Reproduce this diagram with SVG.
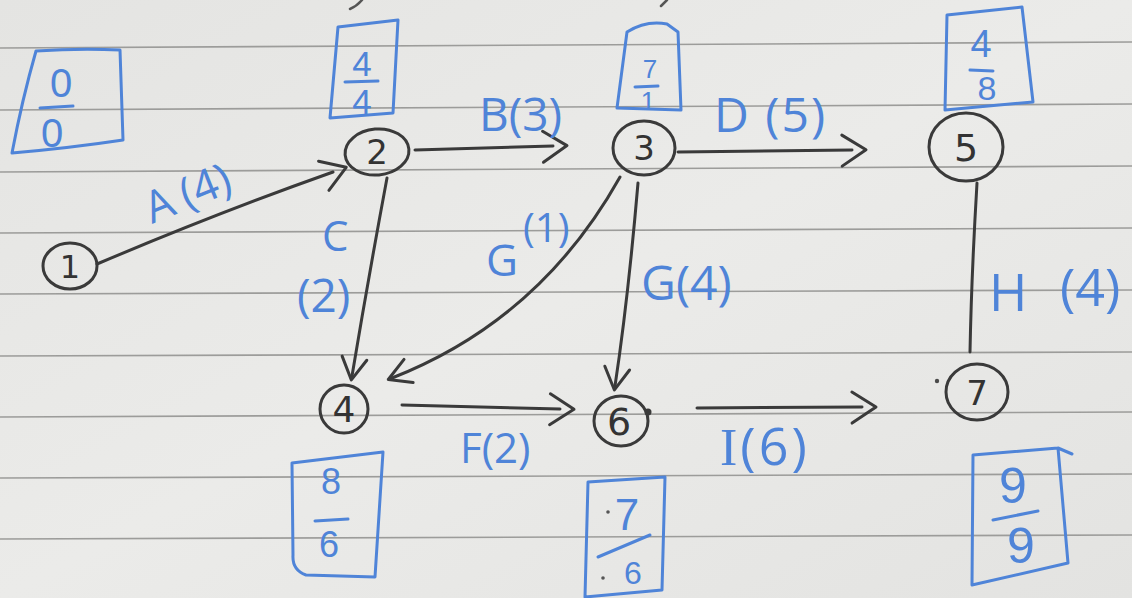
<svg xmlns="http://www.w3.org/2000/svg" width="1132" height="598" viewBox="0 0 1132 598">
  <defs>
    <style>
      .rule { stroke: #9c9c9a; stroke-width: 1.6; fill: none; }
      .pen { stroke: #3a3a3a; stroke-width: 3; fill: none; stroke-linecap: round; stroke-linejoin: round; }
      .blue { stroke: #4f84d8; stroke-width: 3; fill: none; stroke-linecap: round; stroke-linejoin: round; }
      .node-num { font-family: "DejaVu Sans", "Liberation Sans", sans-serif; fill: #333333; text-anchor: middle; }
      .tag { font-family: "Open Sans", "Liberation Sans", sans-serif; fill: #4f84d8; }
      .time { font-family: "Liberation Sans", Arial, sans-serif; fill: #4f84d8; text-anchor: middle; }
    </style>
    <linearGradient id="paper" x1="0" y1="0" x2="1" y2="1">
      <stop offset="0" stop-color="#e4e4e2"/>
      <stop offset="0.5" stop-color="#ebebe9"/>
      <stop offset="1" stop-color="#e3e3e1"/>
    </linearGradient>
    <!-- open chevron arrowhead; refX pushes the tip a little past the shaft end -->
    <marker id="chev" viewBox="-40 -25 50 50" refX="-14" refY="0" markerWidth="50" markerHeight="50" markerUnits="userSpaceOnUse" orient="auto">
      <path d="M-24,-15 L0,0 L-24,16" stroke="#3a3a3a" stroke-width="3" fill="none" stroke-linecap="round" stroke-linejoin="round"/>
    </marker>
    <marker id="chev-short" viewBox="-40 -25 50 50" refX="-4" refY="0" markerWidth="50" markerHeight="50" markerUnits="userSpaceOnUse" orient="auto">
      <path d="M-22,-12 L0,0 L-22,13" stroke="#3a3a3a" stroke-width="3" fill="none" stroke-linecap="round" stroke-linejoin="round"/>
    </marker>
  </defs>

  <!-- ruled notebook paper -->
  <rect x="0" y="0" width="1132" height="598" fill="url(#paper)"/>
  <g id="paper-rules">
    <path class="rule" d="M0,48 L1132,42"/>
    <path class="rule" d="M0,110 L1132,104"/>
    <path class="rule" d="M0,172 L1132,166"/>
    <path class="rule" d="M0,233 L1132,228"/>
    <path class="rule" d="M0,294 L1132,290"/>
    <path class="rule" d="M0,356 L1132,352"/>
    <path class="rule" d="M0,417 L1132,412"/>
    <path class="rule" d="M0,478 L1132,474"/>
    <path class="rule" d="M0,539 L1132,535"/>
  </g>

  <!-- tails of writing from the line above -->
  <path d="M350,9 Q357,6 362,0" stroke="#555" stroke-width="2.5" fill="none" stroke-linecap="round"/>
  <path d="M661,6 L667,0" stroke="#555" stroke-width="2.5" fill="none" stroke-linecap="round"/>

  <!-- activity arrows -->
  <g id="connectors">
    <path id="edge-A" class="pen" d="M97,264 Q220,212 333,172" marker-end="url(#chev)"/>
    <path id="edge-B" class="pen" d="M415,150 L553,146" marker-end="url(#chev)"/>
    <path id="edge-D" class="pen" d="M678,152 L852,150" marker-end="url(#chev)"/>
    <path id="edge-C" class="pen" d="M387,178 Q368,280 352,376" marker-end="url(#chev-short)"/>
    <path id="edge-G1" class="pen" d="M620,177 Q540,320 392,378" marker-end="url(#chev-short)"/>
    <path id="edge-G4" class="pen" d="M638,183 Q628,300 615,386" marker-end="url(#chev-short)"/>
    <path id="edge-F" class="pen" d="M402,405 L560,409" marker-end="url(#chev)"/>
    <path id="edge-I" class="pen" d="M697,408 L862,407" marker-end="url(#chev)"/>
    <path id="edge-H" class="pen" d="M977,183 C973,250 971,300 970,352"/>
    <circle cx="648" cy="412" r="3.5" fill="#3a3a3a"/>
    <circle cx="937" cy="381" r="2.2" fill="#4a4a4a"/>

    <!-- activity labels -->
    <text class="tag" font-size="44" transform="translate(152,224) rotate(-22)">A<tspan dx="10">(4)</tspan></text>
    <text class="tag" x="479" y="131" font-size="46">B(3)</text>
    <text class="tag" x="714" y="132" font-size="48" letter-spacing="2">D (5)</text>
    <text class="tag" x="322" y="251" font-size="42">C</text>
    <text class="tag" x="297" y="312" font-size="46">(2)</text>
    <text class="tag" x="486" y="276" font-size="44">G</text>
    <text class="tag" x="523" y="242" font-size="40">(1)</text>
    <text class="tag" x="641" y="300" font-size="48">G(4)</text>
    <text class="tag" x="460" y="463" font-size="42">F(2)</text>
    <text class="tag" x="720" y="465" font-size="52" letter-spacing="3"><tspan font-family="Liberation Serif, serif">I</tspan>(6)</text>
    <text class="tag" x="989" y="311" font-size="52">H</text>
    <text class="tag" x="1060" y="306" font-size="52">(4)</text>
  </g>

  <!-- events with their time boxes -->
  <g id="node-1">
    <ellipse class="pen" cx="70" cy="266" rx="27" ry="23"/>
    <text class="node-num" x="70" y="278" font-size="32">1</text>
    <path class="blue" d="M36,51 Q80,48 120,50 L123,140 Q70,148 12,153 Q22,100 36,51 Z"/>
    <text class="time" x="61" y="97" font-size="40">0</text>
    <path class="blue" d="M40,108 L73,106"/>
    <text class="time" x="52" y="147" font-size="40">0</text>
  </g>

  <g id="node-2">
    <ellipse class="pen" cx="377" cy="152" rx="32" ry="23" transform="rotate(-5 377 152)"/>
    <text class="node-num" x="377" y="164" font-size="34">2</text>
    <path class="blue" d="M338,27 L398,20 L393,113 L330,118 Z"/>
    <text class="time" x="362" y="76" font-size="35">4</text>
    <path class="blue" d="M345,82 L378,81"/>
    <text class="time" x="362" y="114" font-size="35">4</text>
  </g>

  <g id="node-3">
    <ellipse class="pen" cx="644" cy="148" rx="31" ry="27"/>
    <text class="node-num" x="644" y="160" font-size="34">3</text>
    <path class="blue" d="M617,108 L627,32 Q646,20 667,24 L678,32 L681,110 Z"/>
    <text class="time" x="650" y="78" font-size="26">7</text>
    <path class="blue" d="M635,87 L658,86"/>
    <text class="time" x="648" y="110" font-size="26">1</text>
  </g>

  <g id="node-4">
    <ellipse class="pen" cx="344" cy="409" rx="24" ry="24"/>
    <text class="node-num" x="344" y="422" font-size="36">4</text>
    <path class="blue" d="M292,463 L383,452 L375,577 L306,575 Q292,570 293,555 Z"/>
    <text class="time" x="331" y="494" font-size="36">8</text>
    <path class="blue" d="M315,521 L348,519"/>
    <text class="time" x="329" y="557" font-size="36">6</text>
  </g>

  <g id="node-5">
    <ellipse class="pen" cx="966" cy="147" rx="37" ry="34"/>
    <text class="node-num" x="966" y="161" font-size="38">5</text>
    <path class="blue" d="M947,15 L1022,7 L1033,102 L945,110 Z"/>
    <text class="time" x="981" y="57" font-size="38">4</text>
    <path class="blue" d="M970,70 L993,71"/>
    <text class="time" x="987" y="100" font-size="34">8</text>
  </g>

  <g id="node-6">
    <ellipse class="pen" cx="621" cy="421" rx="27" ry="25"/>
    <text class="node-num" x="619" y="435" font-size="38">6</text>
    <path class="blue" d="M588,482 L665,477 L662,590 L585,597 Z"/>
    <text class="time" x="627" y="530" font-size="44">7</text>
    <path class="blue" d="M598,557 L650,535"/>
    <text class="time" x="633" y="584" font-size="32">6</text>
    <circle cx="608" cy="512" r="1.8" fill="#555"/>
    <circle cx="603" cy="578" r="1.8" fill="#555"/>
  </g>

  <g id="node-7">
    <ellipse class="pen" cx="977" cy="392" rx="31" ry="28"/>
    <text class="node-num" x="977" y="405" font-size="34">7</text>
    <path class="blue" d="M1058,448 L1072,454 M973,455 L1058,448 L1068,563 L972,585 Z"/>
    <text class="time" x="1013" y="503" font-size="50">9</text>
    <path class="blue" d="M993,520 L1038,511"/>
    <text class="time" x="1021" y="563" font-size="50">9</text>
  </g>
</svg>
